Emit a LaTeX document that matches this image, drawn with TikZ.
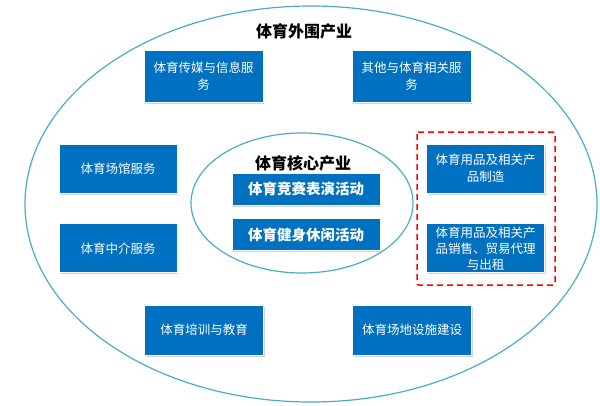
\documentclass[tikz,border=0pt]{standalone}
\usepackage{fontspec}
\newfontfamily\cjk{Noto Sans CJK SC}
\usetikzlibrary{shapes.geometric,shadows,positioning}
\definecolor{boxblue}{HTML}{0070C0}
\definecolor{ringblue}{HTML}{4BACC6}

\begin{document}
\begin{tikzpicture}[
  x=1pt,y=-1pt,
  ring/.style={draw=ringblue,line width=1.2pt,ellipse,inner sep=0pt},
  box/.style={draw=white,line width=0.8pt,fill=boxblue,text=white,align=center,minimum width=119pt,minimum height=52pt,inner sep=2pt,font=\cjk\fontsize{12.5}{17}\selectfont,drop shadow={opacity=0.35,shadow xshift=1pt,shadow yshift=-1.5pt}},
  side/.style={box,minimum width=118pt,minimum height=49pt},
  core/.style={box,minimum width=148pt,minimum height=32pt,font=\cjk\bfseries\fontsize{14.5}{17}\selectfont},
  title/.style={font=\cjk\bfseries\fontsize{16}{18}\selectfont,inner sep=0pt}
]
\useasboundingbox (0,0) rectangle (600,405);
\node[ring,minimum width=572pt,minimum height=396pt] (outer) at (311,204) {};
\node[ring,minimum width=222pt,minimum height=140pt] (inner) at (302,203) {};
\node[title] (outertitle) at (304,31) {体育外围产业};
\node[title] (coretitle) at (303,163) {体育核心产业};
% outer ring
\node[box] (media) at (203.5,76) {体育传媒与信息服\\务};
\node[box] (other) at (411.5,76) {其他与体育相关服\\务};
\node[side] (venue) at (118,168.5) {体育场馆服务};
\node[side,below=30pt of venue] (agency) {体育中介服务};
\node[side] (mfg) at (485.5,168.5) {体育用品及相关产\\品制造};
\node[side,below=30pt of mfg,font=\cjk\fontsize{12.5}{16}\selectfont] (sales) {体育用品及相关产\\品销售、贸易代理\\与出租};
\node[box,minimum height=50pt] (training) at (204,330) {体育培训与教育};
\node[box,minimum height=50pt] (facility) at (412,330) {体育场地设施建设};
% core
\node[core] (comp) at (306,189) {体育竞赛表演活动};
\node[core,below=13pt of comp] (fit) {体育健身休闲活动};
\draw[red,dashed,line width=1.5pt,dash pattern=on 6pt off 4pt,rounded corners=2pt] (417,132) rectangle (555,285);
\end{tikzpicture}
\end{document}
